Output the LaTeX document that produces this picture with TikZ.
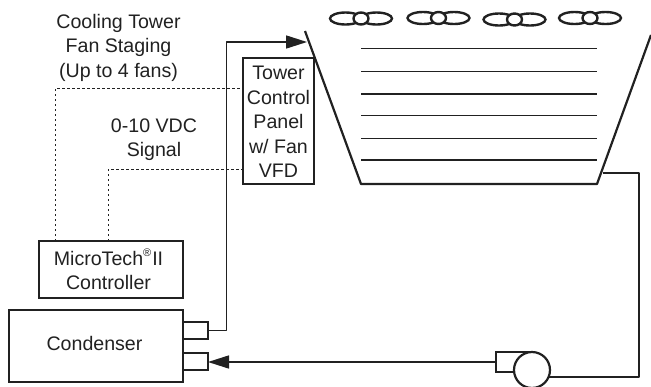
\documentclass[tikz,border=0pt]{standalone}
\usepackage{fontspec}
\setmainfont{Liberation Sans}
\usetikzlibrary{arrows.meta,calc}
\definecolor{ink}{gray}{0.13}
\tikzset{
 boxx/.style={draw=ink,line width=2.2pt,inner sep=0pt,outer sep=0pt,minimum width=#1},
 lbl/.style={text=ink,font=\fontsize{19.6}{24.5}\selectfont,align=center,inner sep=0pt},
 pipe/.style={draw=ink,line width=1.6pt,line join=round},
 sig/.style={draw=ink,line width=1pt,dash pattern=on 2.5pt off 2.5pt},
 fillline/.style={draw=ink,line width=1.2pt},
 wall/.style={draw=ink,line width=2.2pt,line join=round},
 tip/.style={-{Triangle[length=21pt,width=13pt]}},
 fanring/.style={draw=ink,line width=2.4pt}
}
\begin{document}
\begin{tikzpicture}[x=1pt,y=-1pt]
\useasboundingbox (0,0) rectangle (651,386);
% tower
\coordinate (tl) at (305,31);
\coordinate (bl) at (361,184);
\coordinate (br) at (597,184);
\coordinate (tr) at (651,35);
\draw[wall] (tl) -- (bl) -- (br) -- (tr);
\foreach \y in {48.5,71.5,94,115.5,138.5,160}
  \draw[fillline] (361,\y) -- (597,\y);
% fans
\foreach \x/\y in {361/18.5,438.5/18,514.5/19.5,590/18}{
  \draw[fanring] (\x-15.5,\y) ellipse (15.5 and 6);
  \draw[fanring] (\x+15.5,\y) ellipse (15.5 and 6);
  \draw[fanring,fill=white] (\x,\y) ellipse (7.5 and 6);
}
% boxes
\node[boxx=71pt,minimum height=126pt] (panel) at (278.5,121) {};
\node[boxx=144pt,minimum height=57pt] (ctrl) at (111,269.5) {};
\node[boxx=174pt,minimum height=72pt] (cond) at (96,346) {};
\node[boxx=25pt,minimum height=17pt,anchor=west] (s1) at (183,330.5) {};
\node[boxx=25pt,minimum height=17pt,anchor=west] (s2) at (183,361.5) {};
% text
\node[lbl] (t1) at (118.5,47.5) {Cooling Tower\\Fan Staging\\(Up to 4 fans)};
\node[lbl] (t2) at (154,139.5) {0-10 VDC\\Signal};
\node[lbl] (t3) at (278.5,122) {Tower\\Control\\Panel\\w/ Fan\\VFD};
\node[lbl] (t4) at (108.5,269.5) {MicroTech\raisebox{0.42em}{\fontsize{11}{11}\selectfont®}\kern1pt II\\Controller};
\node[lbl] (t5) at (94.5,343) {Condenser};
% signals
\coordinate (c1) at (55,241);
\coordinate (c2) at (108,241);
\draw[sig] (c1) |- (panel.west |- 0,88);
\draw[sig] (c2) |- (panel.west |- 0,169);
% pump
\node[boxx=36pt,minimum height=20pt,anchor=west] (pumpbox) at (496,362) {};
\node[draw=ink,fill=white,line width=2.2pt,circle,minimum size=36pt,inner sep=0pt,outer sep=0pt] (pump) at (532,370) {};
% pipes
\coordinate (in) at (307,42);
\draw[pipe,tip] (s1.east) -| (226.5,42) -- (in);
\draw[pipe,tip] (pumpbox.west) -- (s2.east |- pumpbox.west);
\coordinate (ret) at (603,173);
\coordinate (pout) at ($(pump.center)+(16.5,7)$);
\draw[pipe] (pout) -- (639,377) -- (639,173) -- (ret);
\end{tikzpicture}
\end{document}
